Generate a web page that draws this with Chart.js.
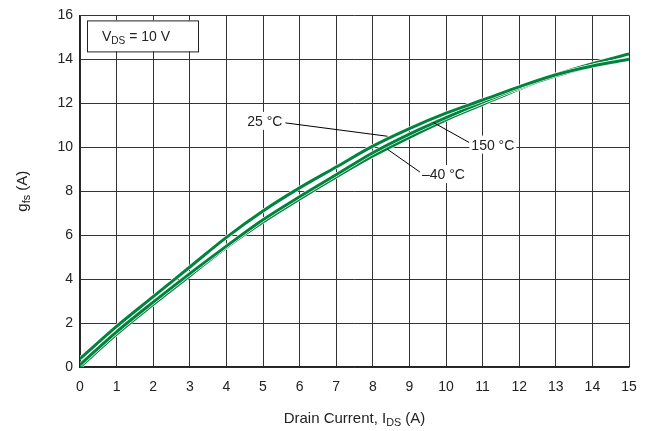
<!DOCTYPE html>
<html>
<head>
<meta charset="utf-8">
<script src="https://cdn.jsdelivr.net/npm/chart.js@4.4.1/dist/chart.umd.min.js"></script>
<style>
  html, body { margin: 0; padding: 0; background: #fff; }
  #wrap { width: 652px; height: 431px; }
</style>
</head>
<body>
<div id="wrap"><canvas id="c" width="652" height="431"></canvas></div>
<script>
// drain current (A)
const currents = [0, 1, 2, 3, 4, 5, 6, 7, 8, 9, 10, 11, 12, 13, 14, 15];
// gfs (A) per temperature
const gfs25 = [0.38, 1.85, 3.2, 4.55, 5.9, 7.1, 8.15, 9.1, 10.05, 10.85, 11.55, 12.15, 12.75, 13.3, 13.7, 14.0];
const gfs150 = [0.1, 1.6, 2.95, 4.25, 5.5, 6.7, 7.75, 8.75, 9.75, 10.6, 11.35, 12.05, 12.7, 13.25, 13.7, 14.0];
const gfsM40 = [0.0, 1.5, 2.85, 4.15, 5.45, 6.6, 7.65, 8.65, 9.6, 10.45, 11.25, 11.95, 12.65, 13.3, 13.8, 14.25];
const xTicks = [0, 1, 2, 3, 4, 5, 6, 7, 8, 9, 10, 11, 12, 13, 14, 15];
const yTicks = [0, 2, 4, 6, 8, 10, 12, 14, 16];

// callout labels: text, label centre (data), point on curve (data), side the leader leaves from
const calloutText = ['25 °C', '150 °C', '–40 °C'];
const calloutAt = [[5.05, 11.2], [11.28, 10.12], [9.93, 8.78]];
const calloutTo = [[8.4, 10.5], [9.66, 11.12], [8.39, 9.92]];
const calloutSide = ['right', 'left', 'left'];

const GREEN = '#00843d';
const FONT = '"Liberation Sans", Arial, sans-serif';
const TXT = '#222';

const series = [gfs25, gfs150, gfsM40];
const datasets = [];
series.forEach((s, i) => {
  const pts = currents.map((x, k) => ({x, y: s[k]}));
  // thin white halo underneath so adjacent curves stay separated
  datasets.push({ data: pts, borderColor: '#fff', borderWidth: 4.2, pointRadius: 0,
    cubicInterpolationMode: 'monotone', order: 2 * i + 1 });
  datasets.push({ data: pts, borderColor: GREEN, borderWidth: 3, pointRadius: 0,
    cubicInterpolationMode: 'monotone', order: 2 * i });
});

function richWidth(ctx, parts, size){
  let w = 0;
  parts.forEach(p => {
    ctx.font = `${p.sub ? size * 0.72 : size}px ${FONT}`;
    w += ctx.measureText(p.t).width;
  });
  return w;
}
function drawRich(ctx, parts, x, y, size){
  // x = left, y = baseline
  parts.forEach(p => {
    const fs = p.sub ? size * 0.72 : size;
    ctx.font = `${fs}px ${FONT}`;
    ctx.fillText(p.t, x, p.sub ? y + size * 0.22 : y);
    x += ctx.measureText(p.t).width;
  });
}

const decor = {
  id: 'decor',
  afterDatasetsDraw(chart){
    const {ctx, chartArea: a, scales: {x, y}} = chart;
    ctx.save();
    ctx.fillStyle = TXT;
    ctx.textBaseline = 'alphabetic';
    ctx.textAlign = 'left';

    // callouts
    ctx.font = `14px ${FONT}`;
    calloutText.forEach((t, i) => {
      const cx = x.getPixelForValue(calloutAt[i][0]);
      const cy = y.getPixelForValue(calloutAt[i][1]);
      const w = ctx.measureText(t).width;
      const sx = calloutSide[i] === 'right' ? cx + w / 2 + 3 : cx - w / 2 - 2;
      const sy = calloutSide[i] === 'right' ? cy + 2 : cy - 2;
      ctx.strokeStyle = '#000';
      ctx.lineWidth = 1;
      ctx.beginPath();
      ctx.moveTo(sx, sy);
      ctx.lineTo(x.getPixelForValue(calloutTo[i][0]), y.getPixelForValue(calloutTo[i][1]));
      ctx.stroke();
      ctx.fillStyle = '#fff';
      ctx.fillRect(cx - w / 2 - 2, cy - 9, w + 4, 18);
      ctx.fillStyle = TXT;
      ctx.fillText(t, cx - w / 2, cy + 5);
    });

    // condition box
    const bx = a.left + 7, by = a.top + 5, bw = 111, bh = 31;
    ctx.fillStyle = '#fff';
    ctx.fillRect(bx, by, bw, bh);
    ctx.strokeStyle = '#222';
    ctx.lineWidth = 1;
    ctx.strokeRect(bx + 0.5, by + 0.5, bw, bh);
    ctx.fillStyle = TXT;
    drawRich(ctx, [{t: 'V'}, {t: 'DS', sub: true}, {t: ' = 10 V'}], bx + 15, by + 21, 14);

    // x title
    const xt = [{t: 'Drain Current, I'}, {t: 'DS', sub: true}, {t: ' (A)'}];
    const xw = richWidth(ctx, xt, 15);
    drawRich(ctx, xt, (a.left + a.right) / 2 - xw / 2, 423, 15);

    // y title
    const yt = [{t: 'g'}, {t: 'fs', sub: true}, {t: ' (A)'}];
    const yw = richWidth(ctx, yt, 15);
    ctx.translate(27, (a.top + a.bottom) / 2);
    ctx.rotate(-Math.PI / 2);
    drawRich(ctx, yt, -yw / 2, 0, 15);
    ctx.restore();
  }
};

new Chart(document.getElementById('c'), {
  type: 'line',
  data: { datasets },
  plugins: [decor],
  options: {
    responsive: false,
    animation: false,
    events: [],
    layout: { padding: { left: 0, top: 12, right: 23, bottom: 0 } },
    plugins: { legend: { display: false }, tooltip: { enabled: false } },
    scales: {
      x: {
        type: 'linear', min: 0, max: 15,
        afterBuildTicks: s => { s.ticks = xTicks.map(v => ({value: v})); },
        afterFit: s => { s.height = 64; },
        grid: { color: '#333', lineWidth: 1, drawTicks: false },
        border: { color: '#222', width: 1.5 },
        ticks: { color: TXT, font: { family: FONT, size: 14 }, padding: 12, maxRotation: 0 }
      },
      y: {
        type: 'linear', min: 0, max: 16,
        afterBuildTicks: s => { s.ticks = yTicks.map(v => ({value: v})); },
        afterFit: s => { s.width = 80; },
        grid: { color: '#333', lineWidth: 1, drawTicks: false },
        border: { color: '#222', width: 1.5 },
        ticks: { color: TXT, font: { family: FONT, size: 14 }, padding: 7 }
      }
    }
  }
});
</script>
</body>
</html>
